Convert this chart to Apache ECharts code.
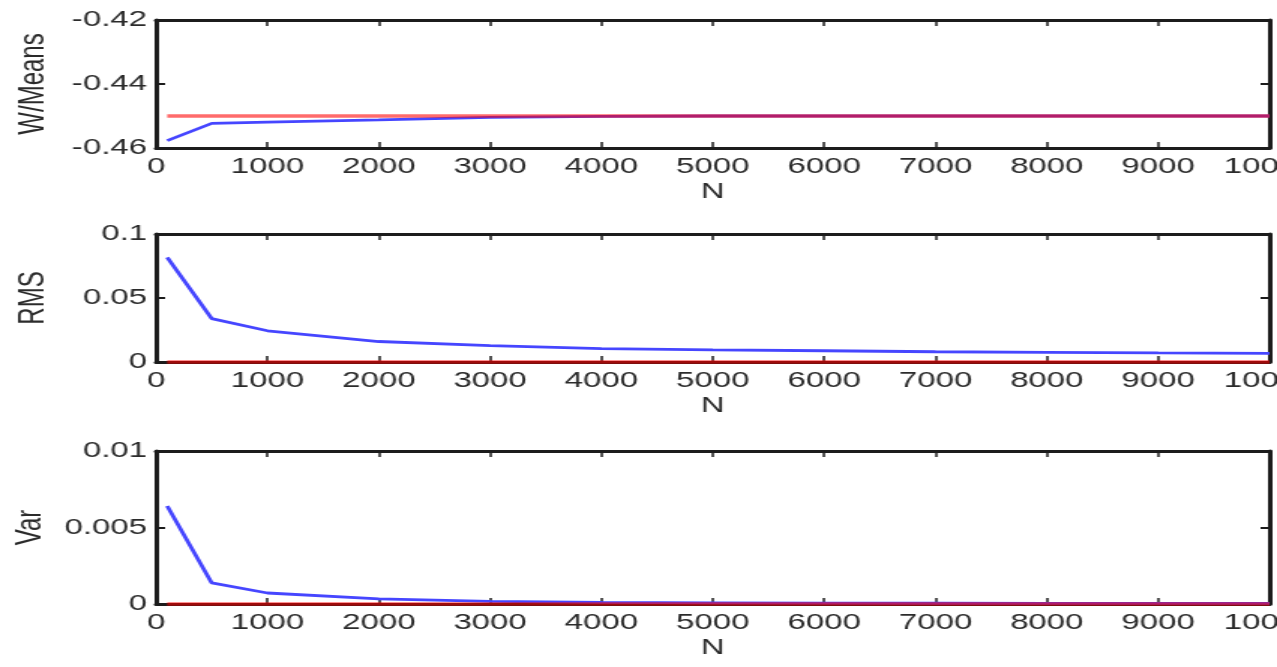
<!DOCTYPE html>
<html>
<head>
<meta charset="utf-8">
<script src="https://cdn.jsdelivr.net/npm/echarts@6/dist/echarts.min.js"></script>
<style>
  html, body { margin: 0; padding: 0; background: #fff; overflow: hidden; }
  #wrap { width: 1277px; height: 667px; overflow: hidden; }
  /* the figure is laid out narrow and widened horizontally */
  #chart { width: 851px; height: 667px; transform: scaleX(1.5006); transform-origin: 0 0; }
</style>
</head>
<body>
<div id="wrap"><div id="chart"></div></div>
<script>
// sample sizes
const N = [100, 500, 1000, 2000, 3000, 4000, 5000, 6000, 7000, 8000, 9000, 10000];

// weighted mean estimate vs. true value
const wMeansEst  = [-0.4577, -0.4523, -0.4519, -0.4512, -0.4504, -0.4501, -0.4500, -0.4500, -0.4500, -0.4500, -0.4500, -0.4500];
const wMeansTrue = [-0.45, -0.45, -0.45, -0.45, -0.45, -0.45, -0.45, -0.45, -0.45, -0.45, -0.45, -0.45];

// RMS error
const rmsEst  = [0.0817, 0.0339, 0.0244, 0.0160, 0.0128, 0.0105, 0.0094, 0.0088, 0.0080, 0.0075, 0.0071, 0.0068];
const rmsTrue = [0, 0, 0, 0, 0, 0, 0, 0, 0, 0, 0, 0];

// variance
const varEst  = [0.0064, 0.00138, 0.00072, 0.00033, 0.00017, 0.00010, 0.00008, 0.00006, 0.00005, 0.00004, 0.00004, 0.00004];
const varTrue = [0, 0, 0, 0, 0, 0, 0, 0, 0, 0, 0, 0];

// y-axis settings per panel
const panelNames = ['W/Means', 'RMS', 'Var'];
const yMin = [-0.46, 0, 0];
const yMax = [-0.42, 0.1, 0.01];
const yStep = [0.02, 0.05, 0.005];

const FONT = '"Liberation Sans", Arial, sans-serif';
const TXT = '#2b2b2b';
const AX = '#1c1c1c';

const grids = [
  { left: 104, right: 5, top: 20, height: 128, outerBoundsMode: 'none', containLabel: false },
  { left: 104, right: 5, top: 234, height: 128, outerBoundsMode: 'none', containLabel: false },
  { left: 104, right: 5, top: 451, height: 153, outerBoundsMode: 'none', containLabel: false }
];

function pairs(ys) { return N.map((n, i) => [n, ys[i]]); }
function fmt(v) { return String(parseFloat(v.toFixed(6))); }

const xAxis = [], yAxis = [], series = [];
const estSets = [wMeansEst, rmsEst, varEst];
const trueSets = [wMeansTrue, rmsTrue, varTrue];

for (let g = 0; g < 3; g++) {
  // bottom x axis with labels
  xAxis.push({
    type: 'value', gridIndex: g, min: 0, max: 10000, interval: 1000, position: 'bottom',
    name: 'N', nameLocation: 'middle', nameGap: 33,
    nameTextStyle: { fontFamily: FONT, fontSize: 22, color: TXT },
    axisLine: { show: true, onZero: false, lineStyle: { color: AX, width: 3 } },
    axisTick: { show: true, inside: true, length: 6, lineStyle: { color: AX, width: 1.5 } },
    axisLabel: { show: true, margin: 8, fontFamily: FONT, fontSize: 22, color: TXT, formatter: v => String(v) },
    splitLine: { show: false }
  });
  // top x axis (box edge)
  xAxis.push({
    type: 'value', gridIndex: g, min: 0, max: 10000, interval: 1000, position: 'top',
    axisLine: { show: true, onZero: false, lineStyle: { color: AX, width: 3 } },
    axisTick: { show: true, inside: true, length: 6, lineStyle: { color: AX, width: 1.5 } },
    axisLabel: { show: false },
    splitLine: { show: false }
  });
  // left y axis with labels
  yAxis.push({
    type: 'value', gridIndex: g, min: yMin[g], max: yMax[g], interval: yStep[g], position: 'left',
    name: panelNames[g], nameLocation: 'middle', nameGap: 70,
    nameTextStyle: { fontFamily: FONT, fontSize: 24, color: TXT },
    axisLine: { show: true, onZero: false, lineStyle: { color: AX, width: 3 } },
    axisTick: { show: true, inside: true, length: 6, lineStyle: { color: AX, width: 2 } },
    axisLabel: { show: true, margin: 6, fontFamily: FONT, fontSize: 22, color: TXT, formatter: fmt },
    splitLine: { show: false }
  });
  // right y axis (box edge)
  yAxis.push({
    type: 'value', gridIndex: g, min: yMin[g], max: yMax[g], interval: yStep[g], position: 'right',
    axisLine: { show: true, onZero: false, lineStyle: { color: AX, width: 3 } },
    axisTick: { show: true, inside: true, length: 6, lineStyle: { color: AX, width: 2 } },
    axisLabel: { show: false },
    splitLine: { show: false }
  });

  series.push({
    type: 'line', xAxisIndex: 2 * g, yAxisIndex: 2 * g, data: pairs(estSets[g]),
    symbol: 'none', clip: false, z: 3,
    lineStyle: { color: '#4646ff', width: 2.8 }
  });
  series.push({
    type: 'line', xAxisIndex: 2 * g, yAxisIndex: 2 * g, data: pairs(trueSets[g]),
    symbol: 'none', clip: false, z: 4,
    lineStyle: { color: 'rgba(255,0,0,0.58)', width: 3.5 }
  });
}

const chart = echarts.init(document.getElementById('chart'), null, { renderer: 'canvas' });
chart.setOption({
  backgroundColor: '#fff',
  animation: false,
  grid: grids,
  xAxis: xAxis,
  yAxis: yAxis,
  series: series
});
</script>
</body>
</html>
